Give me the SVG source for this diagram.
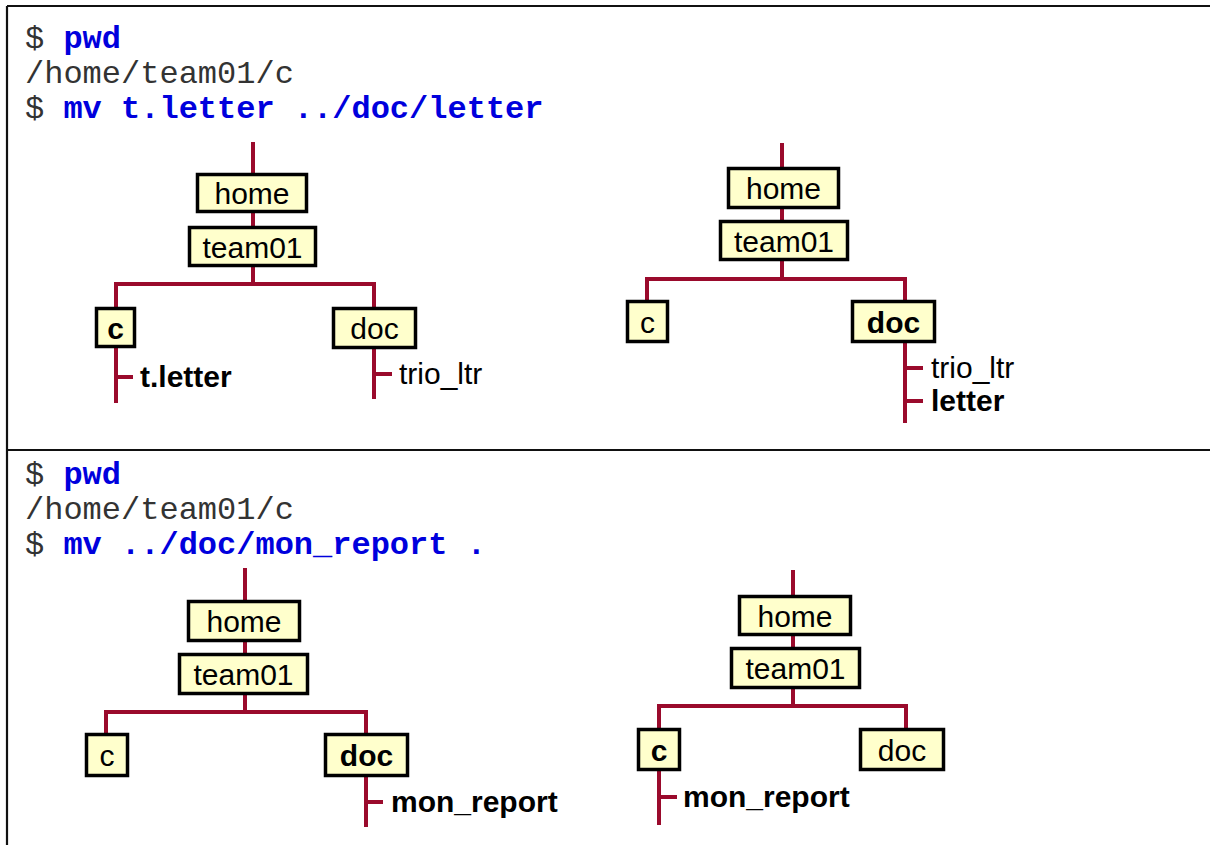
<svg xmlns="http://www.w3.org/2000/svg" width="1210" height="845" viewBox="0 0 1210 845">
<style>
.frame{stroke:#111;stroke-width:2.2;fill:none}
.cmd{font-family:"Liberation Mono","Courier New",monospace;font-size:32px;fill:#333}
.kw{font-weight:bold;fill:#0000DD}
.conn{stroke:#9A0A2C;stroke-width:4;fill:none;stroke-linecap:butt}
.box{fill:#FFFFCC;stroke:#000;stroke-width:3.5}
.lbl{font-family:"Liberation Sans",Arial,sans-serif;font-size:30px;fill:#000;text-anchor:middle}
.file{font-family:"Liberation Sans",Arial,sans-serif;font-size:30px;fill:#000}
.b{font-weight:bold}
</style>
<rect width="1210" height="845" fill="#fff"/>
<g id="frame">
<path class="frame" d="M7,6 H1210 M7,6 V845 M7,450 H1210"/>
</g>
<g id="commands">
<text class="cmd" x="25" y="48">$ <tspan class="kw">pwd</tspan></text>
<text class="cmd" x="25" y="83">/home/team01/c</text>
<text class="cmd" x="25" y="118">$ <tspan class="kw">mv t.letter ../doc/letter</tspan></text>
<text class="cmd" x="25" y="484">$ <tspan class="kw">pwd</tspan></text>
<text class="cmd" x="25" y="519">/home/team01/c</text>
<text class="cmd" x="25" y="554">$ <tspan class="kw">mv ../doc/mon_report .</tspan></text>
</g>
<g id="connectors">
<path class="conn" d="M253,142 V174 M253,212 V228 M253,266 V284"/>
<path class="conn" d="M116,308 V284 H374 V308"/>
<path class="conn" d="M116,347 V403 M116,377 H133"/>
<path class="conn" d="M374,348 V399 M374,374 H392"/>
<path class="conn" d="M782,143 V168 M782,208 V221 M782,260 V279"/>
<path class="conn" d="M647,301 V279 H905 V301"/>
<path class="conn" d="M905,342 V423 M905,368 H923 M905,401 H923"/>
<path class="conn" d="M245,568 V601 M245,641 V654 M245,694 V712"/>
<path class="conn" d="M106,734 V712 H366 V734"/>
<path class="conn" d="M366,776 V827 M366,802 H383"/>
<path class="conn" d="M793,570 V596 M793,635 V648 M793,688 V706"/>
<path class="conn" d="M659,729 V706 H906 V729"/>
<path class="conn" d="M659,770 V825 M659,797 H677"/>
</g>
<g id="tl-home"><rect class="box" x="197.5" y="174.5" width="109" height="37"/><text class="lbl" x="252" y="204">home</text></g>
<g id="tl-team01"><rect class="box" x="189.5" y="227.5" width="126" height="38"/><text class="lbl" x="252.5" y="257.5">team01</text></g>
<g id="tl-c"><rect class="box" x="96.5" y="308.5" width="38" height="38"/><text class="lbl b" x="115.5" y="338.5">c</text></g>
<g id="tl-doc"><rect class="box" x="333.5" y="308.5" width="82" height="39"/><text class="lbl" x="374.5" y="339">doc</text></g>
<g id="tl-tletter"><text class="file b" x="140" y="387">t.letter</text></g>
<g id="tl-trio"><text class="file" x="399" y="384">trio_ltr</text></g>

<g id="tr-home"><rect class="box" x="728.5" y="168.5" width="110" height="39"/><text class="lbl" x="783.5" y="199">home</text></g>
<g id="tr-team01"><rect class="box" x="720.5" y="221.5" width="127" height="38"/><text class="lbl" x="784" y="251.5">team01</text></g>
<g id="tr-c"><rect class="box" x="627.5" y="301.5" width="40" height="40"/><text class="lbl" x="647.5" y="332.5">c</text></g>
<g id="tr-doc"><rect class="box" x="852.5" y="301.5" width="82" height="40"/><text class="lbl b" x="893.5" y="332.5">doc</text></g>
<g id="tr-trio"><text class="file" x="931" y="378">trio_ltr</text></g>
<g id="tr-letter"><text class="file b" x="931" y="411">letter</text></g>

<g id="bl-home"><rect class="box" x="188.5" y="601.5" width="111" height="39"/><text class="lbl" x="244" y="632">home</text></g>
<g id="bl-team01"><rect class="box" x="179.5" y="654.5" width="128" height="39"/><text class="lbl" x="243.5" y="685">team01</text></g>
<g id="bl-c"><rect class="box" x="86.5" y="734.5" width="41" height="41"/><text class="lbl" x="107" y="766">c</text></g>
<g id="bl-doc"><rect class="box" x="325.5" y="734.5" width="82" height="41"/><text class="lbl b" x="366.5" y="766">doc</text></g>
<g id="bl-mon"><text class="file b" x="391" y="812">mon_report</text></g>

<g id="br-home"><rect class="box" x="739.5" y="596.5" width="111" height="38"/><text class="lbl" x="795" y="626.5">home</text></g>
<g id="br-team01"><rect class="box" x="731.5" y="648.5" width="128" height="39"/><text class="lbl" x="795.5" y="679">team01</text></g>
<g id="br-c"><rect class="box" x="638.5" y="729.5" width="41" height="40"/><text class="lbl b" x="659" y="760.5">c</text></g>
<g id="br-doc"><rect class="box" x="860.5" y="729.5" width="83" height="40"/><text class="lbl" x="902" y="760.5">doc</text></g>
<g id="br-mon"><text class="file b" x="683" y="807">mon_report</text></g>
</svg>
